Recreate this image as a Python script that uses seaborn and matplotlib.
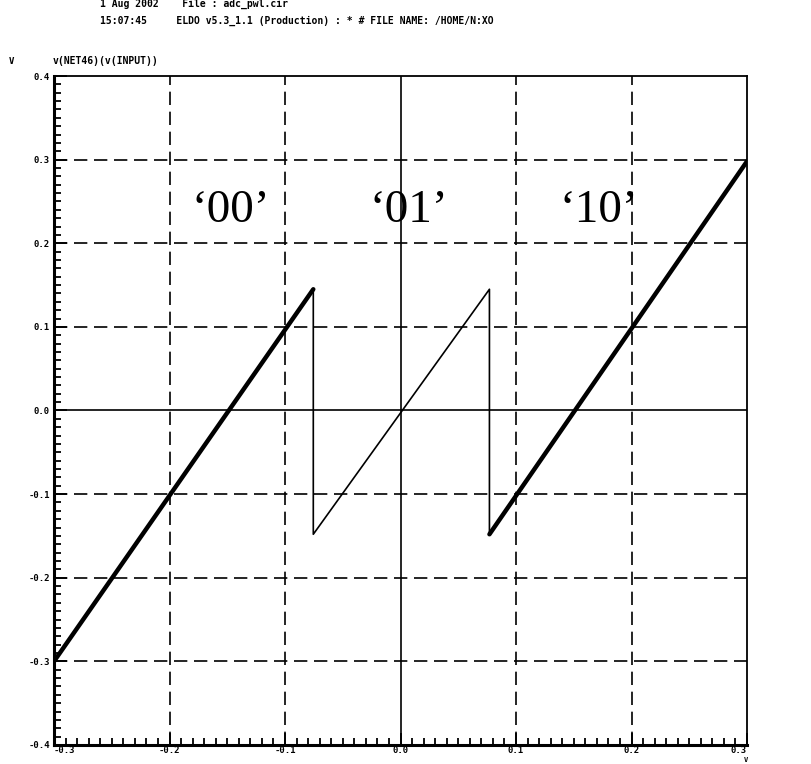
import numpy as np
import pandas as pd
import matplotlib
matplotlib.use("Agg")
import matplotlib.pyplot as plt
import seaborn as sns

# Waveform vertices: v(NET46) against v(INPUT), three ramps with two resets
trace_x = [-0.3, -0.3, -0.0755, -0.0755, 0.077, 0.077, 0.3]
trace_y = [0.10, -0.30, 0.145, -0.148, 0.145, -0.148, 0.298]
# Ramps drawn with a heavier stroke (noisy output codes)
heavy_segments = [(0, 1, 2), (1, 5, 6)]

y_ticks = [0.4, 0.3, 0.2, 0.1, 0.0, -0.1, -0.2, -0.3, -0.4]
x_ticks = [-0.3, -0.2, -0.1, 0.0, 0.1, 0.2, 0.3]
y_tick_labels = ["0.4", "0.3", "0.2", "0.1", "0.0", "-0.1", "-0.2", "-0.3", "-0.4"]
x_tick_labels = ["-0.3", "-0.2", "-0.1", "0.0", "0.1", "0.2", "0.3"]

code_labels = ["\u201800\u2019", "\u201801\u2019", "\u201810\u2019"]
code_x = [-0.147, 0.007, 0.172]
code_y = [0.225, 0.225, 0.225]

sns.set_theme(style="white")
plt.rcParams["font.family"] = ["DejaVu Sans Mono", "DejaVu Sans"]
plt.rcParams["text.color"] = "black"
plt.rcParams["xtick.color"] = "black"
plt.rcParams["ytick.color"] = "black"

fig = plt.figure(figsize=(8.11, 7.64), dpi=100)
ax = fig.add_axes([54 / 811, 1 - 745 / 764, (747 - 54) / 811, (745 - 76) / 764])

df = pd.DataFrame({"x": trace_x, "y": trace_y})
sns.lineplot(data=df, x="x", y="y", sort=False, estimator=None,
             color="black", linewidth=1.2, ax=ax)
for _, i0, i1 in heavy_segments:
    seg = df.iloc[i0:i1 + 1]
    sns.lineplot(data=seg, x="x", y="y", sort=False, estimator=None,
                 color="black", linewidth=3.2, ax=ax)

ax.set_xlim(-0.3, 0.3)
ax.set_ylim(-0.4, 0.4)

# grid: solid axes through zero, dashed elsewhere
dash = (0, (8, 4))
for xv in x_ticks[1:-1]:
    if xv == 0.0:
        ax.axvline(xv, color="black", lw=1.2, zorder=0)
    else:
        ax.axvline(xv, color="black", lw=1.2, ls=dash, zorder=0)
for yv in y_ticks[1:-1]:
    if yv == 0.0:
        ax.axhline(yv, color="black", lw=1.2, zorder=0)
    else:
        ax.axhline(yv, color="black", lw=1.2, ls=dash, zorder=0)

for s in ax.spines.values():
    s.set_color("black")
    s.set_linewidth(1.3)
ax.spines["left"].set_linewidth(2.2)
ax.spines["bottom"].set_linewidth(2.2)

ax.set_xticks(x_ticks)
ax.set_yticks(y_ticks)
ax.set_xticks(np.round(np.arange(-0.3, 0.3001, 0.01), 2), minor=True)
ax.set_yticks(np.round(np.arange(-0.4, 0.4001, 0.01), 2), minor=True)
ax.set_xticklabels(x_tick_labels)
ax.set_yticklabels(y_tick_labels)
ax.tick_params(axis="both", which="major", direction="in", length=9, width=1.3,
               labelsize=6.5, pad=3)
ax.tick_params(axis="x", which="major", pad=1)
ax.tick_params(axis="both", which="minor", direction="in", length=5, width=1.3)
ax.tick_params(axis="x", which="both", top=False, bottom=True)
ax.tick_params(axis="y", which="both", left=True, right=False)
for lab in ax.get_xticklabels() + ax.get_yticklabels():
    lab.set_fontweight("bold")
# end labels sit inside the axis span
xlabs = ax.get_xticklabels()
xlabs[0].set_horizontalalignment("left")
xlabs[-1].set_horizontalalignment("right")
ax.set_xlabel("")
ax.set_ylabel("")

for lab, xv, yv in zip(code_labels, code_x, code_y):
    ax.text(xv, yv, lab, ha="center", va="baseline", fontsize=34, color="black",
            family=["Liberation Serif", "DejaVu Serif"])

# header lines and trace title
fig.text(100 / 811, 1 - 4 / 764, "1 Aug 2002    File : adc_pwl.cir",
         fontsize=7, fontweight="bold", va="center")
fig.text(100 / 811, 1 - 21 / 764,
         "15:07:45     ELDO v5.3_1.1 (Production) : * # FILE NAME: /HOME/N:XO",
         fontsize=7, fontweight="bold", va="center")
fig.text(9 / 811, 1 - 61 / 764, "V", fontsize=6.5, fontweight="bold", va="center")
fig.text(53 / 811, 1 - 61 / 764, "v(NET46)(v(INPUT))", fontsize=7,
         fontweight="bold", va="center")
fig.text(746 / 811, 0.5 / 764, "V", fontsize=5, fontweight="bold",
         ha="center", va="bottom")

fig.savefig("out.png", dpi=100, facecolor="white")
